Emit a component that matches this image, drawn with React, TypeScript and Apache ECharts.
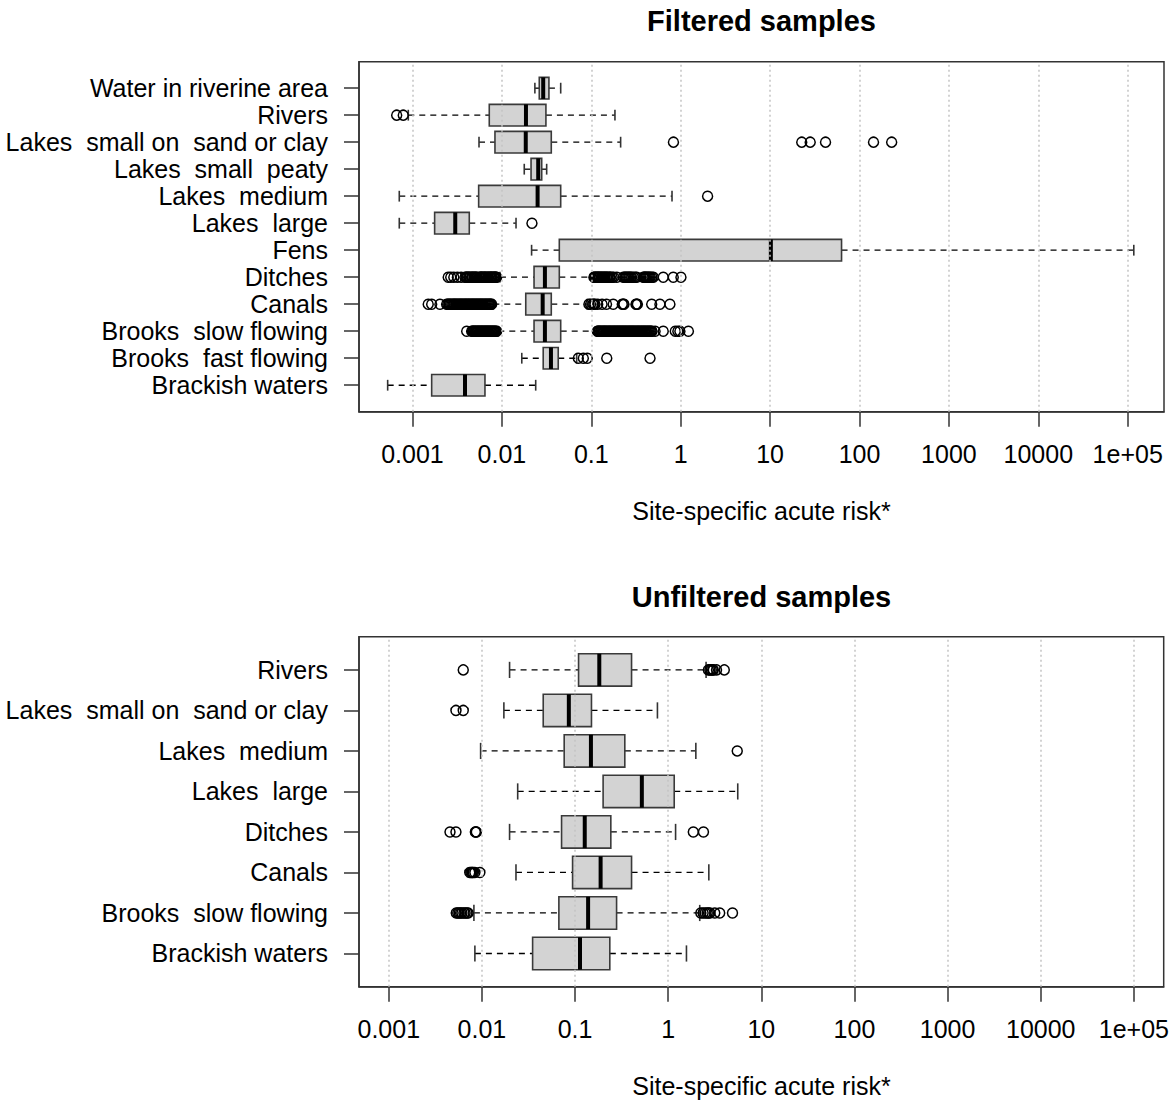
import React, { useEffect, useRef } from "react";
import * as echarts from "echarts";

// ---------- axis ticks ----------
const xTickExponents = [-3, -2, -1, 0, 1, 2, 3, 4, 5];
const xTickLabels = ["0.001", "0.01", "0.1", "1", "10", "100", "1000", "10000", "1e+05"];

// ---------- Filtered samples (display order: top -> bottom) ----------
const filteredCategories = [
  "Water in riverine area",
  "Rivers",
  "Lakes  small on  sand or clay",
  "Lakes  small  peaty",
  "Lakes  medium",
  "Lakes  large",
  "Fens",
  "Ditches",
  "Canals",
  "Brooks  slow flowing",
  "Brooks  fast flowing",
  "Brackish waters",
];
// [lower whisker, Q1, median, Q3, upper whisker]
const filteredStats = [
  [0.0234, 0.0262, 0.029, 0.0336, 0.0455],
  [0.000898, 0.00723, 0.0186, 0.0311, 0.184],
  [0.00555, 0.00837, 0.0185, 0.0357, 0.213],
  [0.0178, 0.0212, 0.0255, 0.0279, 0.0317],
  [0.000712, 0.0055, 0.0251, 0.0455, 0.8],
  [0.000712, 0.00177, 0.00301, 0.00432, 0.0144],
  [0.0215, 0.0439, 10.2, 63, 117000],
  [0.00952, 0.0229, 0.0303, 0.0439, 0.105],
  [0.00802, 0.0185, 0.0286, 0.0357, 0.09],
  [0.00912, 0.0229, 0.0303, 0.0455, 0.115],
  [0.0167, 0.029, 0.0354, 0.0427, 0.0687],
  [0.000528, 0.00164, 0.00387, 0.00647, 0.0239],
];
const filteredOutliers = [
  [],
  [0.000666, 0.000789],
  [0.83, 22.6, 28.1, 41.7, 143.5, 229],
  [],
  [2.0],
  [0.0217],
  [],
  [
    0.00251, 0.00268, 0.0029, 0.00318, 0.0035, 0.00387, 0.00398, 0.00405, 0.00412, 0.00425,
    0.00433, 0.00441, 0.00458, 0.00466, 0.00472, 0.00489, 0.00497, 0.00505, 0.00521, 0.0053,
    0.00563, 0.00572, 0.00585, 0.00594, 0.00603, 0.00621, 0.00633, 0.00644, 0.00656, 0.00668,
    0.00689, 0.00701, 0.00712, 0.00735, 0.00746, 0.00758, 0.00771, 0.00783, 0.00806, 0.00819,
    0.00832, 0.00845, 0.00858, 0.00875,
    0.107, 0.109, 0.111, 0.114, 0.116, 0.118, 0.121, 0.123, 0.125, 0.129, 0.131, 0.133, 0.138,
    0.14, 0.142, 0.147, 0.149, 0.152, 0.158, 0.161, 0.164, 0.171, 0.178, 0.193, 0.228, 0.236,
    0.241, 0.248, 0.255, 0.262, 0.268, 0.276, 0.283, 0.296, 0.31, 0.322, 0.382, 0.39, 0.398,
    0.406, 0.415, 0.425, 0.436, 0.447, 0.458, 0.476, 0.494, 0.638, 0.826, 1.007,
  ],
  [
    0.0015, 0.00164, 0.00203, 0.00241, 0.00248, 0.00255, 0.00261, 0.00268, 0.00276, 0.00284,
    0.00291, 0.00297, 0.00305, 0.00312, 0.0032, 0.00329, 0.00337, 0.00345, 0.00353, 0.00362,
    0.00371, 0.00381, 0.0039, 0.00398, 0.00408, 0.00419, 0.00428, 0.00438, 0.0045, 0.00461,
    0.00471, 0.00482, 0.00494, 0.00506, 0.00518, 0.0053, 0.00543, 0.00556, 0.0057, 0.00583,
    0.00597, 0.00611, 0.00626, 0.00642, 0.00657, 0.00672, 0.00688, 0.00705, 0.00721, 0.00738,
    0.00754, 0.00769,
    0.094, 0.098, 0.104, 0.107, 0.11, 0.118, 0.132, 0.148, 0.176, 0.222, 0.228, 0.232,
    0.316, 0.322, 0.328, 0.474, 0.586, 0.758,
  ],
  [
    0.00404, 0.00459, 0.00468, 0.00478, 0.00487, 0.00497, 0.00507, 0.00518, 0.00529, 0.0054,
    0.0055, 0.00561, 0.00573, 0.00585, 0.00596, 0.00607, 0.0062, 0.00632, 0.00645, 0.00658,
    0.00671, 0.00684, 0.00698, 0.00712, 0.00726, 0.0074, 0.00755, 0.00771, 0.00786, 0.00802,
    0.00819, 0.00836, 0.00855, 0.00875,
    0.117, 0.119, 0.122, 0.124, 0.127, 0.13, 0.133, 0.136, 0.139, 0.142, 0.145, 0.148, 0.152,
    0.155, 0.159, 0.162, 0.166, 0.17, 0.174, 0.178, 0.182, 0.186, 0.19, 0.195, 0.199, 0.204,
    0.208, 0.213, 0.218, 0.223, 0.228, 0.233, 0.239, 0.244, 0.25, 0.256, 0.262, 0.268, 0.274,
    0.28, 0.287, 0.293, 0.3, 0.307, 0.315, 0.322, 0.33, 0.337, 0.345, 0.353, 0.362, 0.37,
    0.379, 0.388, 0.397, 0.406, 0.416, 0.426, 0.436, 0.446, 0.457, 0.467, 0.478, 0.517,
    0.638, 0.87, 0.93, 0.98, 1.22,
  ],
  [0.0716, 0.0815, 0.0902, 0.149, 0.454],
  [],
];

// ---------- Unfiltered samples (display order: top -> bottom) ----------
const unfilteredCategories = [
  "Rivers",
  "Lakes  small on  sand or clay",
  "Lakes  medium",
  "Lakes  large",
  "Ditches",
  "Canals",
  "Brooks  slow flowing",
  "Brackish waters",
];
const unfilteredStats = [
  [0.0198, 0.109, 0.182, 0.404, 2.55],
  [0.0172, 0.0455, 0.0857, 0.15, 0.766],
  [0.00968, 0.0764, 0.148, 0.342, 1.98],
  [0.0242, 0.2, 0.521, 1.16, 5.58],
  [0.0198, 0.0716, 0.127, 0.242, 1.2],
  [0.0232, 0.094, 0.188, 0.404, 2.73],
  [0.0082, 0.067, 0.138, 0.279, 2.18],
  [0.0084, 0.035, 0.113, 0.236, 1.57],
];
const unfilteredOutliers = [
  [0.0063, 2.7, 2.8, 2.9, 3.0, 3.05, 3.3, 4.0],
  [0.00526, 0.0063],
  [5.51],
  [],
  [0.00454, 0.00526, 0.0085, 0.0086, 0.0087, 1.86, 2.39],
  [0.0074, 0.0076, 0.0078, 0.0079, 0.0081, 0.0084, 0.0095],
  [
    0.0053, 0.0055, 0.0057, 0.0059, 0.0061, 0.0064, 0.0066, 0.0069, 0.0071,
    2.24, 2.37, 2.5, 2.62, 2.71, 2.8, 3.16, 3.57, 4.9,
  ],
  [],
];

// ---------- helpers ----------
const FONT = "'Liberation Sans', Arial, sans-serif";
const GRID_LEFT = 359;
const GRID_WIDTH = 805;
const PLOT_CX = GRID_LEFT + GRID_WIDTH / 2;

function boxData(stats: number[][]) {
  const n = stats.length;
  return stats.map((s, i) => [n - i, ...s.map((v) => Math.log10(v))]);
}
function outlierData(outs: number[][]) {
  const n = outs.length;
  const arr: number[][] = [];
  outs.forEach((o, i) => o.forEach((v) => arr.push([Math.log10(v), n - i])));
  return arr;
}

const renderBox = (_params: any, api: any) => {
  const pos = api.value(0);
  const lo = api.value(1);
  const q1 = api.value(2);
  const med = api.value(3);
  const q3 = api.value(4);
  const hi = api.value(5);
  const pLo = api.coord([lo, pos]);
  const pQ1 = api.coord([q1, pos]);
  const pMed = api.coord([med, pos]);
  const pQ3 = api.coord([q3, pos]);
  const pHi = api.coord([hi, pos]);
  const y = pLo[1];
  const hb = Math.abs(api.size([0, 0.4])[1]);
  const hs = Math.abs(api.size([0, 0.2])[1]);
  const dash = { stroke: "#000", lineWidth: 1.3, lineDash: [6, 5] };
  const solid = { stroke: "#333", lineWidth: 1.6 };
  return {
    type: "group",
    children: [
      { type: "line", shape: { x1: pLo[0], y1: y, x2: pQ1[0], y2: y }, style: dash },
      { type: "line", shape: { x1: pQ3[0], y1: y, x2: pHi[0], y2: y }, style: dash },
      { type: "line", shape: { x1: pLo[0], y1: y - hs, x2: pLo[0], y2: y + hs }, style: solid },
      { type: "line", shape: { x1: pHi[0], y1: y - hs, x2: pHi[0], y2: y + hs }, style: solid },
      {
        type: "rect",
        shape: { x: pQ1[0], y: y - hb, width: pQ3[0] - pQ1[0], height: 2 * hb },
        style: { fill: "#d3d3d3", stroke: "#3a3a3a", lineWidth: 1.6 },
      },
      { type: "line", shape: { x1: pMed[0], y1: y - hb, x2: pMed[0], y2: y + hb }, style: { stroke: "#000", lineWidth: 4 } },
    ],
  };
};

function makeXAxis(gridIndex: number, min: number, max: number) {
  return {
    type: "value",
    gridIndex,
    min,
    max,
    axisLine: { show: true, onZero: false, lineStyle: { color: "#333", width: 1.5 } },
    axisTick: { show: true, customValues: xTickExponents, length: 15, inside: false, lineStyle: { color: "#333", width: 1.5 } },
    axisLabel: {
      customValues: xTickExponents,
      formatter: (v: number) => xTickLabels[Math.round(v) + 3],
      margin: 30,
      fontSize: 25,
      color: "#000",
      fontFamily: FONT,
    },
    splitLine: { show: false },
  };
}

function makeYAxis(gridIndex: number, cats: string[]) {
  const n = cats.length;
  const pad = n * 0.04;
  const positions = cats.map((_, i) => i + 1);
  return {
    type: "value",
    gridIndex,
    min: 0.5 - pad,
    max: n + 0.5 + pad,
    axisLine: { show: true, onZero: false, lineStyle: { color: "#333", width: 1.5 } },
    axisTick: { show: true, customValues: positions, length: 15, inside: false, lineStyle: { color: "#333", width: 1.5 } },
    axisLabel: {
      customValues: positions,
      formatter: (v: number) => cats[n - Math.round(v)],
      margin: 31,
      fontSize: 25,
      color: "#000",
      fontFamily: FONT,
    },
    splitLine: { show: false },
  };
}

function gridLineSeries(idx: number) {
  return {
    type: "scatter",
    xAxisIndex: idx,
    yAxisIndex: idx,
    data: [],
    silent: true,
    markLine: {
      silent: true,
      symbol: ["none", "none"],
      label: { show: false },
      lineStyle: { color: "#c4c4c4", type: [2, 3], width: 1.5 },
      data: xTickExponents.map((v) => ({ xAxis: v })),
    },
  };
}

export default function App() {
  const ref = useRef<HTMLDivElement>(null);
  useEffect(() => {
    if (!ref.current) return;
    const chart = echarts.init(ref.current, null, { renderer: "svg" });
    const outlierStyle = { color: "rgba(0,0,0,0)", borderColor: "#000", borderWidth: 1.5, opacity: 1 };
    const option: any = {
      animation: false,
      backgroundColor: "#fff",
      grid: [
        { left: GRID_LEFT, top: 61.7, width: GRID_WIDTH, height: 350, show: true, borderColor: "#333", borderWidth: 1.5, backgroundColor: "transparent" },
        { left: GRID_LEFT, top: 636.7, width: GRID_WIDTH, height: 350, show: true, borderColor: "#333", borderWidth: 1.5, backgroundColor: "transparent" },
      ],
      xAxis: [makeXAxis(0, -3.598, 5.406), makeXAxis(1, -3.32, 5.32)],
      yAxis: [makeYAxis(0, filteredCategories), makeYAxis(1, unfilteredCategories)],
      graphic: [
        { type: "text", x: PLOT_CX, y: 21, style: { text: "Filtered samples", font: `bold 29px ${FONT}`, fill: "#000", textAlign: "center", textVerticalAlign: "middle" } },
        { type: "text", x: PLOT_CX, y: 597, style: { text: "Unfiltered samples", font: `bold 29px ${FONT}`, fill: "#000", textAlign: "center", textVerticalAlign: "middle" } },
        { type: "text", x: PLOT_CX, y: 511, style: { text: "Site-specific acute risk*", font: `25px ${FONT}`, fill: "#000", textAlign: "center", textVerticalAlign: "middle" } },
        { type: "text", x: PLOT_CX, y: 1086, style: { text: "Site-specific acute risk*", font: `25px ${FONT}`, fill: "#000", textAlign: "center", textVerticalAlign: "middle" } },
      ],
      series: [
        {
          type: "custom",
          xAxisIndex: 0,
          yAxisIndex: 0,
          renderItem: renderBox,
          encode: { x: [1, 2, 3, 4, 5], y: 0 },
          data: boxData(filteredStats),
          z: 2,
        },
        {
          type: "custom",
          xAxisIndex: 1,
          yAxisIndex: 1,
          renderItem: renderBox,
          encode: { x: [1, 2, 3, 4, 5], y: 0 },
          data: boxData(unfilteredStats),
          z: 2,
        },
        {
          type: "scatter",
          xAxisIndex: 0,
          yAxisIndex: 0,
          symbol: "circle",
          symbolSize: 10,
          itemStyle: outlierStyle,
          data: outlierData(filteredOutliers),
          z: 3,
        },
        {
          type: "scatter",
          xAxisIndex: 1,
          yAxisIndex: 1,
          symbol: "circle",
          symbolSize: 10,
          itemStyle: outlierStyle,
          data: outlierData(unfilteredOutliers),
          z: 3,
        },
        gridLineSeries(0),
        gridLineSeries(1),
      ],
    };
    chart.setOption(option);
    return () => chart.dispose();
  }, []);
  return (
    <div
      ref={ref}
      style={{ position: "absolute", left: 0, top: 0, width: 1172, height: 1101 }}
    />
  );
}
